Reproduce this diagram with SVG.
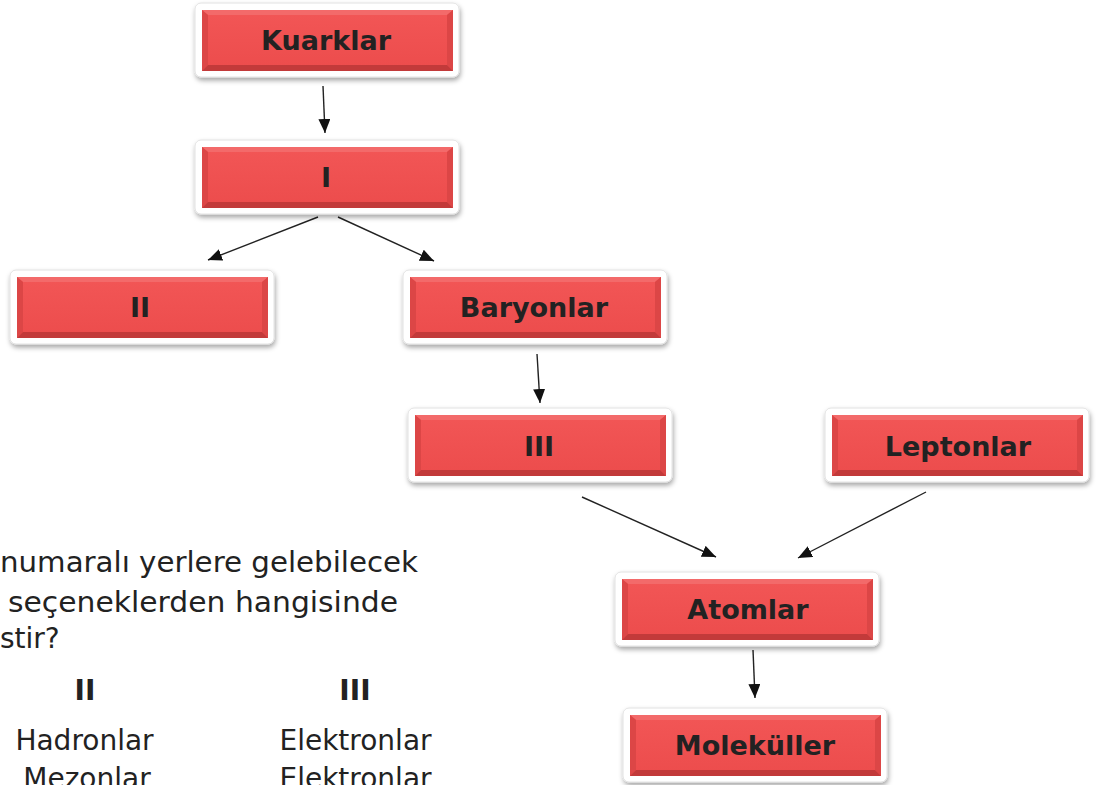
<svg xmlns="http://www.w3.org/2000/svg" width="1097" height="785" viewBox="0 0 1097 785">
<defs>
<style>
.card{fill:#fff;stroke:#e2e2e2;stroke-width:1;filter:url(#sh)}
.face{fill:url(#rg)}
.hl{fill:#f36a6a}
.dk{fill:#c23a3a}
.sd{fill:#dc4646}
.lbl{font-family:"DejaVu Sans","Liberation Sans",sans-serif;font-weight:bold;font-size:27px;fill:#222;text-anchor:middle}
.q{font-family:"DejaVu Sans","Liberation Sans",sans-serif;font-size:28px;fill:#222}
.qb{font-family:"DejaVu Sans","Liberation Sans",sans-serif;font-size:28px;font-weight:bold;fill:#222;text-anchor:middle}
.con line{stroke:#222;stroke-width:1.4;marker-end:url(#ah)}
</style>
<linearGradient id="rg" x1="0" y1="0" x2="0" y2="1">
<stop offset="0" stop-color="#f25656"/>
<stop offset="1" stop-color="#ec4c4c"/>
</linearGradient>
<filter id="sh" x="-10%" y="-20%" width="120%" height="150%">
<feDropShadow dx="1" dy="3" stdDeviation="2.5" flood-color="#000" flood-opacity="0.35"/>
</filter>
<marker id="ah" viewBox="0 0 14 12" refX="14" refY="6" markerWidth="14" markerHeight="12" markerUnits="userSpaceOnUse" orient="auto">
<path d="M0,0 L14,6 L0,12 Z" fill="#111"/>
</marker>
<g id="btn">
<rect class="card" x="0" y="0" width="264" height="74" rx="6"/>
<rect class="face" x="7" y="7" width="251" height="61"/>
<polygon class="hl" points="7,7 258,7 252,12 13,12"/>
<polygon class="sd" points="7,7 13,12 13,62 7,68"/>
<polygon class="sd" points="258,7 258,68 252,62 252,12"/>
<polygon class="dk" points="7,68 13,62 252,62 258,68"/>
</g>
</defs>
<rect width="1097" height="785" fill="#fff"/>
<g class="con">
<line x1="323" y1="86" x2="325" y2="133"/>
<line x1="318" y1="217" x2="208" y2="260"/>
<line x1="338" y1="217" x2="434" y2="261"/>
<line x1="537" y1="354" x2="540" y2="403"/>
<line x1="582" y1="497" x2="716" y2="557"/>
<line x1="926" y1="492" x2="798" y2="558"/>
<line x1="753" y1="650" x2="755" y2="698"/>
</g>
<g id="n-kuarklar"><use href="#btn" x="195" y="3"/><text class="lbl" x="326" y="50">Kuarklar</text></g>
<g id="n-i"><use href="#btn" x="195" y="140"/><text class="lbl" x="326" y="187">I</text></g>
<g id="n-ii"><use href="#btn" x="10" y="270"/><text class="lbl" x="140" y="317">II</text></g>
<g id="n-baryonlar"><use href="#btn" x="403" y="270"/><text class="lbl" x="534" y="317">Baryonlar</text></g>
<g id="n-iii"><use href="#btn" x="408" y="408"/><text class="lbl" x="539" y="456">III</text></g>
<g id="n-leptonlar"><use href="#btn" x="825" y="408"/><text class="lbl" x="958" y="456">Leptonlar</text></g>
<g id="n-atomlar"><use href="#btn" x="615" y="572"/><text class="lbl" x="748" y="619">Atomlar</text></g>
<g id="n-molekuller"><use href="#btn" x="623" y="708"/><text class="lbl" x="755" y="755">Moleküller</text></g>
<g id="question">
<text class="q" x="0" y="572" textLength="418" lengthAdjust="spacingAndGlyphs">numaralı yerlere gelebilecek</text>
<text class="q" x="8" y="612" textLength="390" lengthAdjust="spacingAndGlyphs">seçeneklerden hangisinde</text>
<text class="q" x="0" y="648">stir?</text>
<text class="qb" x="85" y="700">II</text>
<text class="qb" x="355" y="700">III</text>
<text class="q" x="84.5" y="750" text-anchor="middle">Hadronlar</text>
<text class="q" x="355.5" y="750" text-anchor="middle">Elektronlar</text>
<text class="q" x="87" y="788" text-anchor="middle">Mezonlar</text>
<text class="q" x="355.5" y="788" text-anchor="middle">Elektronlar</text>
</g>
</svg>
